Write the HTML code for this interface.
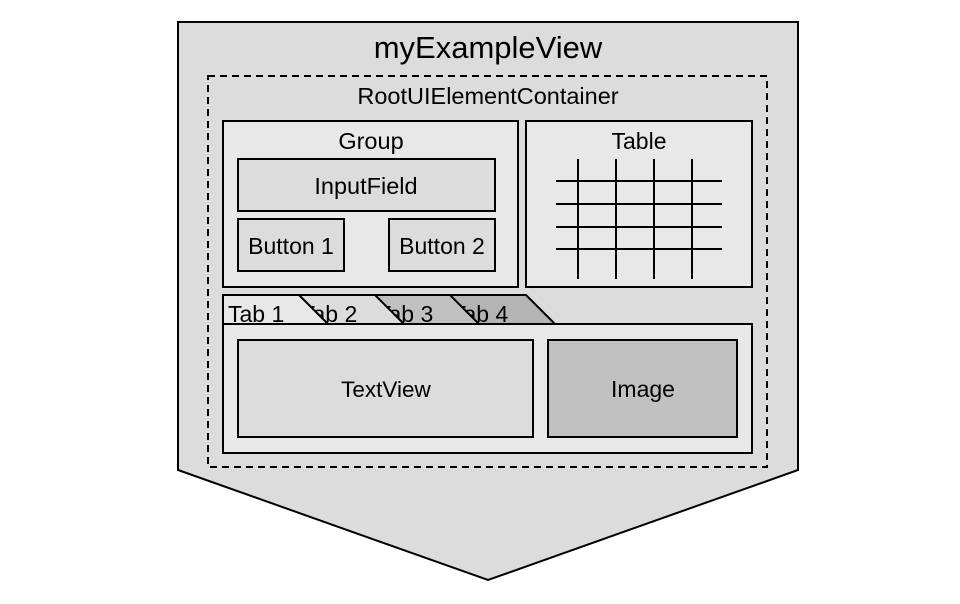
<!DOCTYPE html>
<html><head><meta charset="utf-8"><style>
html,body{margin:0;padding:0;background:#fff;}
svg{display:block;}
text{font-family:"Liberation Sans",Arial,sans-serif;fill:#000;}
</style></head><body>
<svg width="960" height="604" viewBox="0 0 960 604" xmlns="http://www.w3.org/2000/svg">
<polygon points="178,22 798,22 798,470 488,580 178,470" fill="#dcdcdc" stroke="#000" stroke-width="2"/>
<text x="488" y="58" font-size="31" text-anchor="middle">myExampleView</text>
<rect x="208" y="76" width="559" height="391" fill="none" stroke="#000" stroke-width="2" stroke-dasharray="7,5"/>
<text x="488" y="104" font-size="23.5" text-anchor="middle">RootUIElementContainer</text>

<rect x="223" y="121" width="295" height="166" fill="#e8e8e8" stroke="#000" stroke-width="2"/>
<text x="371" y="149" font-size="23.5" text-anchor="middle">Group</text>
<rect x="238" y="159" width="257" height="52" fill="#dcdcdc" stroke="#000" stroke-width="2"/>
<text x="366" y="194" font-size="23.5" text-anchor="middle">InputField</text>
<rect x="238" y="219" width="106" height="52" fill="#dcdcdc" stroke="#000" stroke-width="2"/>
<text x="291" y="254" font-size="23" text-anchor="middle">Button 1</text>
<rect x="389" y="219" width="106" height="52" fill="#dcdcdc" stroke="#000" stroke-width="2"/>
<text x="442" y="254" font-size="23" text-anchor="middle">Button 2</text>

<rect x="526" y="121" width="226" height="166" fill="#e8e8e8" stroke="#000" stroke-width="2"/>
<text x="639" y="149" font-size="23" text-anchor="middle">Table</text>
<g stroke="#000" stroke-width="2">
<line x1="556" y1="181" x2="722" y2="181"/>
<line x1="556" y1="204" x2="722" y2="204"/>
<line x1="556" y1="227" x2="722" y2="227"/>
<line x1="556" y1="249" x2="722" y2="249"/>
<line x1="578" y1="159" x2="578" y2="279"/>
<line x1="616" y1="159" x2="616" y2="279"/>
<line x1="654" y1="159" x2="654" y2="279"/>
<line x1="692" y1="159" x2="692" y2="279"/>
</g>

<rect x="223" y="324" width="529" height="129" fill="#e8e8e8" stroke="#000" stroke-width="2"/>
<polygon points="450,295 526,295 555,324 450,324" fill="#b4b4b4" stroke="#000" stroke-width="2"/>
<text x="452" y="322" font-size="23">Tab 4</text>
<polygon points="375,295 450,295 479,324 375,324" fill="#c0c0c0" stroke="#000" stroke-width="2"/>
<text x="377" y="322" font-size="23">Tab 3</text>
<polygon points="299,295 375,295 404,324 299,324" fill="#dcdcdc" stroke="#000" stroke-width="2"/>
<text x="301" y="322" font-size="23">Tab 2</text>
<polygon points="223,295 299,295 328,324 223,324" fill="#e8e8e8" stroke="#000" stroke-width="2"/>
<text x="228" y="322" font-size="23">Tab 1</text>
<line x1="223" y1="324" x2="752" y2="324" stroke="#000" stroke-width="2"/>

<rect x="238" y="340" width="295" height="97" fill="#dcdcdc" stroke="#000" stroke-width="2"/>
<text x="386" y="397" font-size="22.5" text-anchor="middle">TextView</text>
<rect x="548" y="340" width="189" height="97" fill="#c0c0c0" stroke="#000" stroke-width="2"/>
<text x="643" y="397" font-size="23" text-anchor="middle">Image</text>
</svg>
</body></html>
